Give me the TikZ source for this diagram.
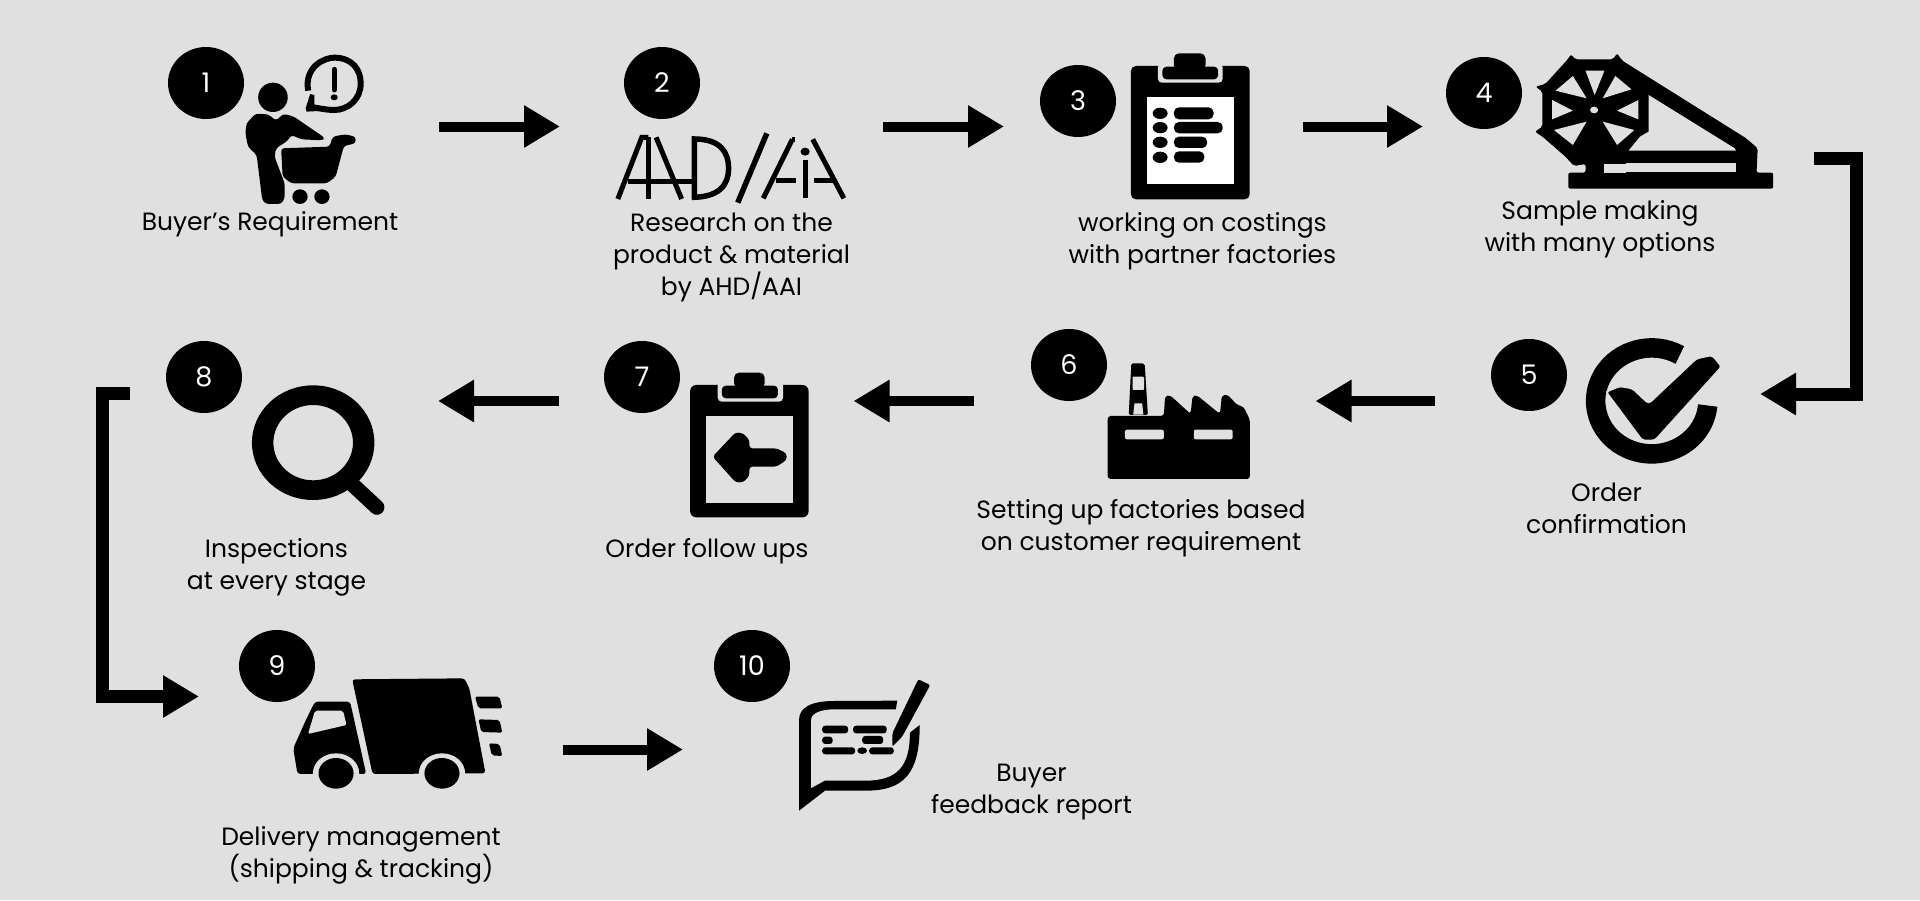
\documentclass[tikz,border=0pt]{standalone}
\usepackage{fontspec}
\setmainfont{Poppins}
\usetikzlibrary{arrows.meta,shapes.geometric}
\definecolor{bgc}{HTML}{E0E0E0}
\tikzset{
 badge/.style={ellipse,fill=black,text=white,minimum width=76pt,minimum height=72pt,inner sep=0pt,font=\fontsize{27}{30}\selectfont},
 lab/.style={align=center,inner sep=0pt,text=black,font=\fontsize{25}{32}\selectfont},
 flow/.style={line width=#1,draw=black,miter limit=10,-{Triangle[length=36pt,width=40pt]}},
 flow/.default=10pt,
 zoneA/.style={shift={(100,20)},x=0.5102pt,y=-0.3333pt},
 zoneB/.style={shift={(1000,20)},x=0.574pt,y=-0.3333pt},
 zoneC/.style={shift={(80,320)},x=0.5102pt,y=-0.3333pt},
 zoneD/.style={shift={(880,320)},x=0.6378pt,y=-0.3333pt},
 zoneE/.style={shift={(80,620)},x=0.7015pt,y=-0.3333pt},
 logo/.style={line width=5pt,draw=black,line cap=butt},
}
\begin{document}
\begin{tikzpicture}[x=1pt,y=-1pt]
\useasboundingbox (0,0) rectangle (1920,900);
\fill[bgc] (0,0) rectangle (1920,900);
% badges
\node[badge] (n1) at (206,83) {1};
\node[badge] (n2) at (662,83) {2};
\node[badge] (n3) at (1078,101) {3};
\node[badge] (n4) at (1484,93) {4};
\node[badge] (n5) at (1529,375) {5};
\node[badge] (n6) at (1069,365) {6};
\node[badge] (n7) at (642,377) {7};
\node[badge] (n8) at (204,377) {8};
\node[badge] (n9) at (277,666) {9};
\node[badge] (n10) at (752,666) {10};
% labels
\node[lab] (t1) at (270,224) {Buyer's Requirement};
\node[lab] (t2) at (731.5,257) {Research on the\\product \& material\\by AHD/AAI};
\node[lab] (t3) at (1202.5,241) {working on costings\\with partner factories};
\node[lab] (t4) at (1600,229) {Sample making\\with many options};
\node[lab] (t5) at (1606.5,508) {Order\\confirmation};
\node[lab] (t6) at (1141,528) {Setting up factories based\\on customer requirement};
\node[lab] (t7) at (707,551) {Order follow ups};
\node[lab] (t8) at (276.5,567) {Inspections\\at every stage};
\node[lab] (t9) at (361,855) {Delivery management\\(shipping \& tracking)};
\node[lab] (t10) at (1031.5,792) {Buyer\\feedback report};
% connector ends
\coordinate (a1s) at (439,126.5); \coordinate (a1e) at (560,126.5);
\coordinate (a2s) at (883,126.5); \coordinate (a2e) at (1004,126.5);
\coordinate (a3s) at (1302.5,126.5); \coordinate (a3e) at (1423,126.5);
\coordinate (a4s) at (1814,158.5); \coordinate (a4a) at (1856.5,158.5); \coordinate (a4b) at (1856.5,394); \coordinate (a4e) at (1760,394);
\coordinate (a5s) at (1435,401); \coordinate (a5e) at (1315.5,401);
\coordinate (a6s) at (974,401); \coordinate (a6e) at (853.5,401);
\coordinate (a7s) at (558.5,401); \coordinate (a7e) at (438,401);
\coordinate (a8s) at (129.5,393); \coordinate (a8a) at (102,393); \coordinate (a8b) at (102,696.5); \coordinate (a8e) at (199,696.5);
\coordinate (a9s) at (562.5,749.5); \coordinate (a9e) at (683,749.5);
\draw[flow] (a1s) -- (a1e);
\draw[flow] (a2s) -- (a2e);
\draw[flow] (a3s) -- (a3e);
\draw[flow=13pt] (a4s) -- (a4a) -- (a4b) -- (a4e);
\draw[flow] (a5s) -- (a5e);
\draw[flow] (a6s) -- (a6e);
\draw[flow] (a7s) -- (a7e);
\draw[flow=13pt] (a8s) -- (a8a) -- (a8b) -- (a8e);
\draw[flow] (a9s) -- (a9e);
% icon 1 buyer
\begin{scope}[zoneA]
\fill (339,232) ellipse [x radius=29,y radius=44];
\fill[rounded corners=3pt] (287,310) -- (305,281) -- (330,283) -- (345,302) -- (360,281) -- (380,290) -- (441,354) -- (435,361) -- (395,358) -- (375,345) -- (368,362) -- (345,385) -- (342,410) -- (362,490) -- (362,535) -- (355,552) -- (325,552) -- (318,540) -- (307,405) -- (290,380) -- (285,340) -- cycle;
\fill[rounded corners=3pt] (355,385) -- (450,380) -- (456,350) -- (480,343) -- (501,350) -- (501,370) -- (478,378) -- (462,470) -- (445,490) -- (375,490) -- (358,470) -- cycle;
\fill (392,530) ellipse [x radius=15,y radius=22];
\fill (435,530) ellipse [x radius=15,y radius=22];
\draw[line width=6pt] (408,212) .. controls (400,140) and (440,113) .. (459,113) .. controls (495,113) and (511,150) .. (511,190) .. controls (511,240) and (485,270) .. (459,270) .. controls (445,270) and (430,265) .. (418,262);
\fill (412,222) -- (420,225) -- (420,262) -- (440,272) -- (405,275) -- (403,265) -- cycle;
\draw[line width=5pt,line cap=round] (459,148) -- (459,210);
\fill (459,232) ellipse [x radius=7,y radius=9];
% icon 2 logo
\draw[logo] (1015,537) -- (1062,352) -- (1075,352);
\draw[logo] (1075,352) -- (1075,537);
\draw[logo] (1090,352) -- (1140,537);
\draw[logo] (1035,485) -- (1170,485);
\draw[logo,line width=5.5pt] (1165,537) -- (1165,357) .. controls (1215,357) and (1232,395) .. (1232,445) .. controls (1232,500) and (1210,532) .. (1160,532);
\draw[logo,line width=5.5pt] (1307,340) -- (1250,548);
\draw[logo] (1300,535) -- (1357,358);
\draw[logo] (1325,482) -- (1365,482);
\draw[logo] (1357,358) -- (1362,358);
\draw[logo] (1382,420) -- (1382,535);
\fill (1382,395) ellipse [x radius=9,y radius=12];
\draw[logo] (1397,358) -- (1458,535);
\draw[logo] (1400,482) -- (1440,482);
\end{scope}
% icon 3 clipboard
\begin{scope}[zoneB]
\fill[rounded corners=5pt] (228,138) rectangle (435,538);
\fill[bgc,rounded corners=4pt] (275,130) rectangle (388,188);
\fill[rounded corners=4pt] (283,140) rectangle (380,178);
\fill[rounded corners=5pt] (303,100) rectangle (358,150);
\fill[white] (256,230) rectangle (408,492);
\foreach \yy in {280,323,367,412} \fill (279,\yy) ellipse [x radius=13,y radius=17];
\fill[rounded corners=5pt] (303,262) rectangle (372,298);
\fill[rounded corners=5pt] (303,306) rectangle (388,340);
\fill[rounded corners=5pt] (303,350) rectangle (361,384);
\fill[rounded corners=5pt] (303,394) rectangle (356,428);
% icon 4 wheel
\fill[rounded corners=2pt] (988,120) -- (995,103) -- (1002,118) -- (1068,118) -- (1075,100) -- (1084,122) -- (1300,355) -- (1320,385) -- (1318,458) -- (1347,458) -- (1347,506) -- (990,506) -- (990,458) -- (1020,458) -- (1020,432) -- (1000,438) -- (985,410) -- (945,350) -- (932,335) -- (945,320) -- (945,215) -- (933,200) -- (950,192) -- cycle;
\fill[rounded corners=2pt] (1030,120) -- (1135,215) -- (1135,322) -- (1140,335) -- (1125,350) -- (1090,425) -- (1075,438) -- (1050,432) -- (1020,432) -- cycle;
\fill[bgc] (1090,428) rectangle (1282,455);
\fill[bgc] (1052,432) rectangle (1090,458);
\fill[bgc] (1130,225) -- (1280,385) -- (1282,392) -- (1095,392) -- (1115,350) -- (1130,335) -- cycle;
\foreach \pa/\pb/\pc in {1020/152/1053,998/168/1022}{}
\fill[bgc] (1020,152) -- (1053,152) -- (1036,225) -- cycle;
\fill[bgc] (998,168) -- (1022,235) -- (968,212) -- cycle;
\fill[bgc] (1072,168) -- (1100,208) -- (1050,235) -- cycle;
\fill[bgc] (962,240) -- (998,272) -- (962,298) -- cycle;
\fill[bgc] (1112,240) -- (1075,272) -- (1112,298) -- cycle;
\fill[bgc] (965,330) -- (1022,305) -- (998,375) -- cycle;
\fill[bgc] (1105,330) -- (1050,305) -- (1075,375) -- cycle;
\fill[bgc] (1035,270) ellipse [x radius=7,y radius=10];
\end{scope}
% icon 5 check, icon 6 factory
\begin{scope}[zoneD]
\draw[line width=19.5pt] (1254,105) arc [start angle=-60,end angle=-355,x radius=88,y radius=159];
\fill[draw=bgc,line width=2pt,rounded corners=3pt] (1138,215) -- (1160,198) -- (1180,205) -- (1205,250) -- (1280,115) -- (1305,105) -- (1320,140) -- (1215,362) -- (1195,362) -- cycle;
\fill[rounded corners=3pt] (357,288) -- (445,288) -- (447,228) -- (455,226) -- (487,282) -- (490,228) -- (497,226) -- (533,282) -- (536,226) -- (545,224) -- (560,255) -- (570,260) -- (580,300) -- (580,477) -- (357,477) -- cycle;
\fill[rounded corners=2pt] (390,285) -- (394,130) -- (415,130) -- (420,285) -- cycle;
\fill[bgc,rounded corners=1pt] (396,170) rectangle (414,210);
\fill[bgc] (399,250) -- (411,250) -- (413,284) -- (397,284) -- cycle;
\fill[bgc,rounded corners=2pt] (384,329) rectangle (445,358);
\fill[bgc,rounded corners=2pt] (492,329) rectangle (553,358);
\end{scope}
% icon 7 clipboard, icon 8 magnifier
\begin{scope}[zoneC]
\fill[rounded corners=6pt] (1196,195) rectangle (1428,592);
\fill[bgc,rounded corners=4pt] (1250,185) rectangle (1378,245);
\fill[rounded corners=4pt] (1258,197) rectangle (1368,235);
\fill[rounded corners=5pt] (1282,158) rectangle (1342,205);
\fill[bgc] (1227,287) rectangle (1397,548);
\fill[rounded corners=3pt] (1240,410) -- (1285,337) -- (1300,340) -- (1312,360) -- (1312,385) -- (1365,385) -- (1385,400) -- (1385,420) -- (1365,440) -- (1312,440) -- (1312,468) -- (1300,487) -- (1285,487) -- cycle;
\fill[even odd rule] (457,368) ellipse [x radius=120,y radius=172] (457,368) ellipse [x radius=78,y radius=113];
\draw[line width=15pt,line cap=round] (535,495) -- (582,562);
\end{scope}
% icon 9 truck, icon 10 chat
\begin{scope}[zoneE]
\fill[rounded corners=3pt] (388,178) -- (548,175) -- (555,205) -- (578,460) -- (417,462) -- cycle;
\fill[rounded corners=3pt] (335,245) -- (385,245) -- (408,462) -- (310,462) -- (304,385) -- (322,300) -- cycle;
\fill[bgc,rounded corners=2pt] (335,272) -- (375,272) -- (380,315) -- (325,342) -- cycle;
\fill[bgc] (365,460) ellipse [x radius=33,y radius=60];
\fill[bgc] (516,460) ellipse [x radius=33,y radius=60];
\fill (365,460) ellipse [x radius=25,y radius=46];
\fill (516,460) ellipse [x radius=25,y radius=46];
\fill[rounded corners=2pt] (563,230) -- (598,230) -- (602,265) -- (568,265) -- cycle;
\fill[rounded corners=2pt] (568,298) -- (598,300) -- (602,338) -- (572,336) -- cycle;
\fill[rounded corners=2pt] (583,370) -- (598,372) -- (602,408) -- (587,406) -- cycle;
\fill (1165,242) -- (1075,243) .. controls (1040,243) and (1025,265) .. (1025,300) -- (1025,572) -- (1062,512) -- (1120,512) .. controls (1175,512) and (1197,460) .. (1197,315) -- (1183,338) .. controls (1183,440) and (1165,482) .. (1120,482) -- (1062,482) -- (1042,505) -- (1042,300) .. controls (1042,280) and (1055,268) .. (1075,268) -- (1163,268) -- cycle;
\fill[rounded corners=2pt] (1195,178) -- (1212,195) -- (1172,350) -- (1158,380) -- (1158,340) -- cycle;
\fill[rounded corners=3pt] (1058,317) rectangle (1095,340);
\fill[rounded corners=3pt] (1102,317) rectangle (1150,340);
\fill[rounded corners=3pt] (1058,350) rectangle (1073,372);
\fill[rounded corners=3pt] (1115,348) rectangle (1145,372);
\fill[rounded corners=3pt] (1058,382) rectangle (1105,403);
\fill (1115,392) ellipse [x radius=7,y radius=10];
\fill[rounded corners=3pt] (1125,382) rectangle (1160,403);
\end{scope}
\end{tikzpicture}
\end{document}
